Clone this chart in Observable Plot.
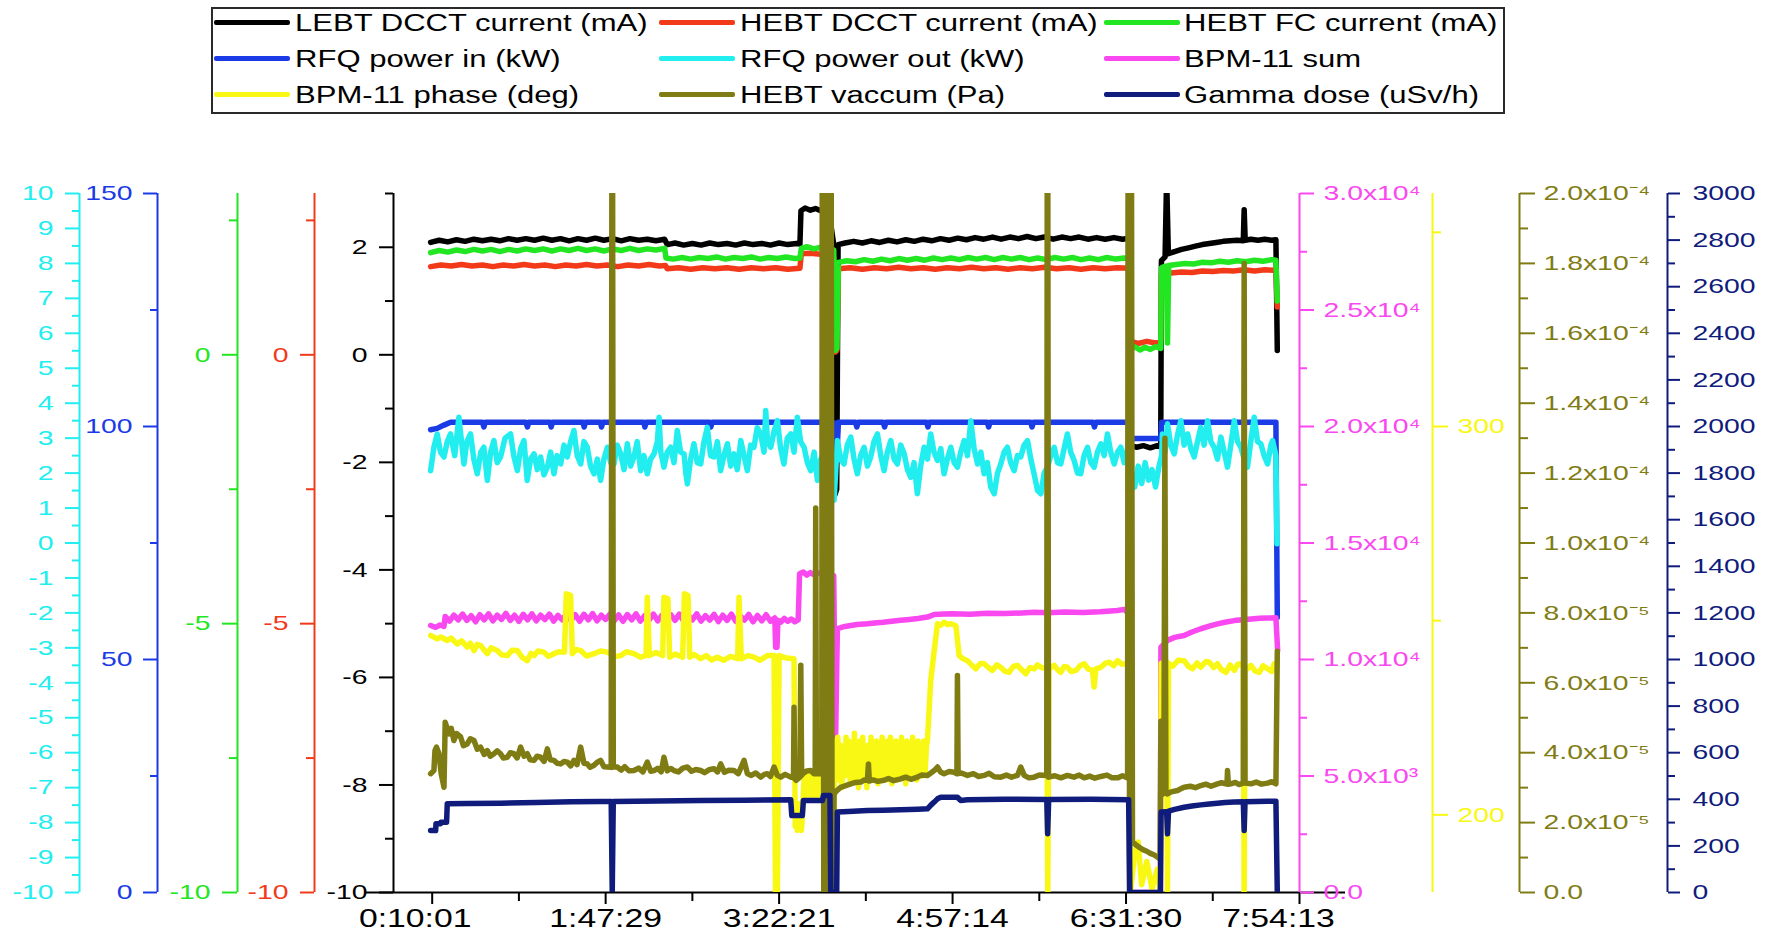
<!DOCTYPE html>
<html><head><meta charset="utf-8">
<script src="https://cdn.jsdelivr.net/npm/d3@7"></script>
<script src="https://cdn.jsdelivr.net/npm/@observablehq/plot@0.6"></script>
<style>
body{margin:0;background:#fff;font-family:"Liberation Sans",Arial,Helvetica,sans-serif;}
#legendArea{position:relative;width:1768px;height:120px;}
#legendBox{position:absolute;left:211px;top:7px;width:1294px;height:107px;border:2px solid #2a2a2a;box-sizing:border-box;}
.sw{position:absolute;height:5px;width:76px;border-radius:2px;}
.lt{position:absolute;font-size:23px;line-height:28px;white-space:nowrap;transform-origin:0 50%;color:#000;}
#wrap{position:relative;width:1768px;height:820px;overflow:hidden;}
#wrap svg{position:absolute;left:0;top:0;}
</style></head><body>
<div id="legendArea"><div id="legendBox"></div></div>
<div id="wrap"></div>
<script>
// ---------------- x axis (sample index; ticks labelled with clock time) ----------------
const xDomain = [-22.3, 500];
const xTickValues = [0, 100, 200, 300, 400, 500];
const xTickLabels = ["0:10:01", "1:47:29", "3:22:21", "4:57:14", "6:31:30", "7:54:13"];
const xMinorTicks = [50, 150, 250, 350, 450];

// ---------------- legend ----------------
const seriesNames = ["LEBT DCCT current (mA)", "HEBT DCCT current (mA)", "HEBT FC current (mA)",
  "RFQ power in (kW)", "RFQ power out (kW)", "BPM-11 sum",
  "BPM-11 phase (deg)", "HEBT vaccum (Pa)", "Gamma dose (uSv/h)"];

// ---------------- axis ticks / labels ----------------
const blackTicks = [2, 0, -2, -4, -6, -8, -10];
const blackLabels = ["2", "0", "-2", "-4", "-6", "-8", "-10"];
const blackMinor = [3, 1, -1, -3, -5, -7, -9];
const redTicks = [0, -5, -10];
const redLabels = ["0", "-5", "-10"];
const redMinor = [2.5, -2.5, -7.5];
const greenTicks = [0, -5, -10];
const greenLabels = ["0", "-5", "-10"];
const greenMinor = [2.5, -2.5, -7.5];
const blueTicks = [0, 50, 100, 150];
const blueLabels = ["0", "50", "100", "150"];
const blueMinor = [25, 75, 125];
const cyanTicks = [10, 9, 8, 7, 6, 5, 4, 3, 2, 1, 0, -1, -2, -3, -4, -5, -6, -7, -8, -9, -10];
const cyanLabels = ["10", "9", "8", "7", "6", "5", "4", "3", "2", "1", "0", "-1", "-2", "-3", "-4", "-5", "-6", "-7", "-8", "-9", "-10"];
const cyanMinor = [9.5, 8.5, 7.5, 6.5, 5.5, 4.5, 3.5, 2.5, 1.5, 0.5, -0.5, -1.5, -2.5, -3.5, -4.5, -5.5, -6.5, -7.5, -8.5, -9.5];
const magentaTicks = [0, 5000, 10000, 15000, 20000, 25000, 30000];
const magentaLabels = ["0.0", "5.0x10³", "1.0x10⁴", "1.5x10⁴", "2.0x10⁴", "2.5x10⁴", "3.0x10⁴"];
const magentaMinor = [2500, 7500, 12500, 17500, 22500, 27500];
const yellowTicks = [200, 300];
const yellowLabels = ["200", "300"];
const yellowMinor = [250, 350];
// vacuum values and ticks are in units of 1e-5 Pa
const oliveTicks = [0, 2, 4, 6, 8, 10, 12, 14, 16, 18, 20];
const oliveLabels = ["0.0", "2.0x10⁻⁵", "4.0x10⁻⁵", "6.0x10⁻⁵", "8.0x10⁻⁵", "1.0x10⁻⁴", "1.2x10⁻⁴", "1.4x10⁻⁴", "1.6x10⁻⁴", "1.8x10⁻⁴", "2.0x10⁻⁴"];
const oliveMinor = [1, 3, 5, 7, 9, 11, 13, 15, 17, 19];
const navyTicks = [0, 200, 400, 600, 800, 1000, 1200, 1400, 1600, 1800, 2000, 2200, 2400, 2600, 2800, 3000];
const navyLabels = navyTicks.map(String);
const navyMinor = [100, 300, 500, 700, 900, 1100, 1300, 1500, 1700, 1900, 2100, 2300, 2500, 2700, 2900];

// ---------------- series: [sample index, value] ----------------
const lebtDcct = [[-0.9,2.09],[4,2.13],[9,2.10],[14,2.14],[19,2.11],[24,2.15],[29,2.12],[34,2.15],[39,2.12],[44,2.16],[49,2.13],[54,2.16],[59,2.13],[64,2.17],[69,2.13],[74,2.16],[79,2.12],[84,2.16],[89,2.13],[94,2.17],[99,2.13],[104,2.16],[109,2.12],[114,2.16],[119,2.13],[124,2.15],[129,2.12],[134,2.15],
[135.5,2.05],[140,2.08],[145,2.04],[150,2.07],[155,2.04],[160,2.08],[165,2.05],[170,2.07],[175,2.04],[180,2.08],[185,2.05],[190,2.07],[195,2.04],[200,2.08],[205,2.05],[210,2.07],[212,2.06],
[212.6,2.68],[215,2.73],[218,2.69],[221,2.72],[224,2.68],[229,2.6],[231.5,2.05],[232.2,-2.6],[233.2,-2.5],[234,2.05],
[238,2.08],[243,2.11],[248,2.08],[253,2.12],[258,2.09],[263,2.13],[268,2.10],[273,2.14],[278,2.11],[283,2.15],[288,2.12],[293,2.16],[298,2.13],[303,2.17],[308,2.14],[313,2.18],[318,2.15],[323,2.19],[328,2.15],[333,2.19],[338,2.16],[343,2.20],[348,2.16],[353,2.19],[358,2.15],[363,2.19],[368,2.16],[373,2.19],[378,2.15],[383,2.18],[388,2.15],[393,2.18],[398,2.15],[401.8,2.17],
[402.6,-1.68],[406,-1.72],[410,-1.69],[414,-1.73],[418,-1.69],[420,-1.71],
[420.4,1.75],[422.5,1.82],[423.4,3.3],[424.4,1.88],[428,1.92],[432,1.96],[436,1.99],[440,2.02],[444,2.05],[448,2.07],[452,2.09],[456,2.11],[460,2.12],[464,2.13],[467.6,2.12],[468.1,2.7],[468.7,2.13],[472,2.15],[476,2.13],[480,2.15],[484,2.13],[486.4,2.14],[487.2,0.08]];

const hebtDcct = [[-0.9,1.64],[5,1.67],[11,1.65],[17,1.68],[23,1.65],[29,1.67],[35,1.64],[41,1.67],[47,1.65],[53,1.68],[59,1.65],[65,1.67],[71,1.64],[77,1.67],[83,1.65],[89,1.68],[95,1.65],[101,1.67],[107,1.64],[113,1.67],[119,1.65],[125,1.68],[131,1.65],[134.5,1.66],
[135.5,1.60],[142,1.62],[149,1.59],[156,1.62],[163,1.60],[170,1.62],[177,1.59],[184,1.62],[191,1.60],[198,1.62],[205,1.59],[212,1.61],[212.8,1.88],[218,1.89],[224,1.87],
[231.5,1.8],[232.3,0.05],[233.3,0.08],[234.2,1.60],[241,1.62],[248,1.59],[255,1.62],[262,1.60],[269,1.63],[276,1.60],[283,1.62],[290,1.59],[297,1.62],[304,1.60],[311,1.63],[318,1.60],[325,1.62],[332,1.59],[339,1.62],[346,1.60],[353,1.63],[360,1.60],[367,1.62],[374,1.59],[381,1.62],[388,1.60],[395,1.62],[401.8,1.61],
[402.6,0.25],[407,0.21],[412,0.25],[417,0.22],[420,0.24],[420.4,1.50],[426,1.52],[432,1.54],[438,1.53],[444,1.56],[450,1.55],[456,1.57],[462,1.56],[468,1.58],[474,1.56],[480,1.58],[486.4,1.57],[487.2,0.89]];

const hebtFc = [[-0.9,1.90],[4,1.94],[9,1.91],[14,1.95],[19,1.92],[24,1.96],[29,1.93],[34,1.96],[39,1.92],[44,1.96],[49,1.93],[54,1.97],[59,1.94],[64,1.97],[69,1.93],[74,1.97],[79,1.94],[84,1.98],[89,1.94],[94,1.97],[99,1.93],[104,1.97],[109,1.94],[114,1.98],[119,1.94],[124,1.97],[129,1.95],[134,1.98],
[134.8,1.80],[139,1.78],[144,1.81],[149,1.78],[154,1.81],[159,1.79],[164,1.82],[169,1.78],[174,1.81],[179,1.79],[184,1.82],[189,1.78],[194,1.81],[199,1.79],[204,1.82],[209,1.79],[212,1.80],
[212.8,1.98],[216,2.01],[220,1.97],[224,2.00],[231.5,1.95],[232.3,0.08],[233.3,0.12],[234.2,1.72],
[239,1.75],[244,1.73],[249,1.77],[254,1.74],[259,1.78],[264,1.75],[269,1.79],[274,1.76],[279,1.79],[284,1.76],[289,1.80],[294,1.77],[299,1.80],[304,1.77],[309,1.81],[314,1.78],[319,1.81],[324,1.77],[329,1.81],[334,1.78],[339,1.81],[344,1.77],[349,1.80],[354,1.77],[359,1.81],[364,1.78],[369,1.81],[374,1.77],[379,1.80],[384,1.77],[389,1.81],[394,1.78],[399,1.80],[401.8,1.79],
[402.6,0.10],[405,0.15],[408,0.09],[411,0.14],[414,0.10],[417,0.15],[420,0.12],
[420.4,1.62],[422,1.64],[423.2,1.65],[423.9,0.22],[424.6,1.66],[429,1.68],[434,1.70],[439,1.69],[444,1.72],[449,1.71],[454,1.74],[459,1.72],[464,1.75],[469,1.73],[474,1.76],[479,1.74],[484,1.77],[486.4,1.76],[487.2,1.00]];

const rfqPowerIn = [[-0.9,99.3],[2.9,99.6],[6.8,100.3],[10.6,100.9],[29,100.9],[29.8,99.9],[30.6,100.9],[54,100.9],[54.9,99.9],[55.7,100.9],[68,100.9],[68.6,99.9],[69.4,100.9],[87,100.9],[87.6,99.9],[88.4,100.9],[97,100.9],[97.6,99.9],[98.4,100.9],[122,100.9],[122.6,99.9],[123.4,100.9],[160,100.9],[160.6,99.9],[161.4,100.9],[224,100.9],
[231.5,100.8],[232.2,94.9],[233.5,95.5],[234.2,100.9],[244,100.9],[244.8,99.9],[245.6,100.9],[260,100.9],[260.8,99.9],[261.6,100.9],[285,100.9],[285.8,99.9],[286.6,100.9],[320,100.9],[320.8,99.9],[321.6,100.9],[345,100.9],[345.8,99.9],[346.6,100.9],[381,100.9],[381.8,99.9],[382.6,100.9],[401.8,100.9],
[402.6,97.4],[420,97.4],[420.5,100.9],[486.4,100.9],[487.2,59.0]];

const rfqPowerOut = [[-0.9,2.07],[1.0,2.74],[2.9,3.12],[4.8,2.6],[6.8,2.46],[8.7,2.9],[10.6,3.12],[13,2.5],[15.4,3.60],[18.3,2.26],[20,2.9],[22.1,3.12],[24,2.4],[26.0,1.98],[28,2.6],[29.8,2.74],[31.8,1.79],[33.7,2.6],[35.6,2.93],[37.5,2.3],[39.4,2.46],[42,3.0],[45.2,3.12],[47,2.5],[49.1,2.07],[51,2.7],[52.9,2.93],[54.8,1.79],[56.7,2.4],[58.7,2.55],[60.6,2.1],[62.5,2.46],[64.4,1.95],[66.4,2.17],[68.3,2.6],[70.2,1.98],[72,2.5],[74.1,2.26],[76,2.8],[77.9,2.46],[79.8,2.9],[81.7,3.22],[83.6,2.5],[85.6,2.26],[87.5,2.9],[89.4,2.74],[91.3,2.2],[93.3,1.98],[95.2,2.4],[97.1,1.79],[99,2.4],[101.0,2.74],[102.9,2.3],[104.8,2.26],[106.7,2.8],[108.7,2.55],[110.6,2.1],[112.5,2.84],[114.4,2.2],[116.3,2.46],[118.2,2.9],[120.2,2.07],[122.1,2.5],[124.0,1.98],[125.9,2.4],[127.9,2.55],[129.8,2.9],[130.8,3.60],[131.8,2.6],[133.6,2.17],[135.5,2.6],[137.5,2.74],[139.4,2.3],[141.3,3.22],[143.2,2.6],[145.2,2.55],[146.2,2.0],[147.1,1.69],[149,2.4],[150.9,2.84],[152.8,2.3],[154.8,2.26],[156.7,2.9],[158.6,3.31],[160.5,2.5],[162.5,2.46],[164.4,2.9],[166.3,2.07],[168.2,2.5],[170.2,2.84],[172.1,2.2],[174.0,2.55],[175.9,2.1],[177.9,2.93],[179.8,2.5],[181.7,2.07],[183.6,2.8],[185.5,2.74],[187.4,3.3],[189.4,3.12],[191.3,2.6],[192.3,3.79],[193.3,2.9],[195.2,2.74],[197.1,3.2],[199.0,3.50],[200.9,2.7],[202.8,2.26],[204.7,3.0],[206.7,3.12],[208.6,2.6],[210.5,3.60],[212.4,2.9],[214.4,2.74],[216.3,2.3],[218.2,2.07],[220.2,2.6],[222.1,1.79],[224,2.4],[225,2.5],[230,2.2],[231.7,1.22],
[233.6,2.93],[235.5,2.4],[237.4,2.26],[239.3,2.8],[241.3,3.03],[243.2,2.4],[245.1,1.98],[247,2.5],[249.0,2.74],[250.9,2.2],[252.8,2.46],[254.7,2.9],[256.7,3.12],[258.6,2.5],[260.5,2.07],[262.4,2.6],[264.4,2.93],[266.3,2.4],[268.2,2.26],[270.1,2.8],[272.1,2.55],[274,2.1],[275.9,1.88],[277.8,2.3],[279.7,1.41],[281.6,2.2],[283.6,2.74],[285.5,2.4],[287.4,3.12],[289.3,2.6],[291.3,2.36],[293.2,2.7],[295.1,1.98],[297,2.4],[299.0,2.74],[300.9,2.3],[302.8,2.17],[304.7,2.6],[306.7,2.93],[308.6,2.5],[310.5,3.50],[312.4,2.7],[314.4,2.26],[316.3,2.6],[318.2,1.98],[320.1,2.3],[322.0,1.60],[324.0,1.41],[325.9,2.0],[327.8,2.26],[329.7,2.6],[331.6,2.74],[333.5,2.3],[335.5,2.07],[337.4,2.5],[339.3,2.46],[341.2,2.8],[343.2,2.93],[345.1,2.4],[347.0,1.98],[349.0,1.50],[350.9,1.41],[352.8,2.0],[354.7,2.17],[356.6,2.5],[358.6,2.74],[360.5,2.3],[362.4,2.26],[364.3,2.7],[366.2,3.12],[368.1,2.6],[370.1,2.36],[372,2.0],[373.9,1.98],[375.8,2.5],[377.8,2.74],[379.7,2.3],[381.6,2.17],[383.5,2.6],[385.5,2.84],[387.4,2.5],[389.3,3.12],[391.2,2.6],[393.2,2.26],[395.1,2.6],[397.0,2.74],[398.9,2.3],[400.5,2.6],[401.8,2.93],
[403,2.0],[405,1.6],[407,2.2],[409,1.7],[411,2.3],[413,1.8],[415,2.1],[417,1.6],[419,2.2],[420.5,2.5],
[421.0,3.12],[422.5,2.6],[423.9,3.41],[425.8,2.8],[427.8,2.55],[429.7,3.1],[431.6,3.50],[433.5,2.8],[435.5,3.12],[437.4,2.7],[439.3,2.46],[441.2,2.9],[443.1,3.31],[445,2.8],[447.0,3.50],[448.9,2.9],[450.8,2.74],[452.7,2.4],[454.7,3.03],[456.6,2.6],[458.5,2.17],[460.4,2.8],[462.4,3.50],[464.3,2.9],[466.2,2.74],[468.1,2.4],[470.0,2.17],[471.9,2.9],[473.9,3.60],[475.8,2.9],[477.7,2.84],[479.6,2.5],[481.6,2.26],[483.5,2.8],[484.5,2.93],[486.4,2.5],[487.0,-0.02]];

const bpmSum = [[-0.9,11460],[2,11380],[4.5,11480],[6.8,11420],
[7.5,11850],[10,11650],[12.5,11900],[15,11700],[17.5,11950],[20,11680],[22.5,11880],[25,11620],[27.5,11920],[30,11700],[32.5,11960],[35,11660],[37.5,11900],[40,11720],[42.5,11980],[45,11680],[47.5,11900],[50,11640],[52.5,11940],[55,11700],[57.5,11960],[60,11660],[62.5,11900],[65,11710],[67.5,11950],[70,11650],[72.5,11890],[75,11700],[77.5,11960],[80,11680],[82.5,11920],[85,11640],[87.5,11940],[90,11700],[92.5,11970],[95,11660],[97.5,11900],[100,11720],[102.5,11950],[105,11670],[107.5,11910],[110,11640],[112.5,11930],[115,11700],[117.5,11960],[120,11650],[122.5,11880],[125,11690],[127.5,11950],[130,11660],[132.5,11900],[135,11620],[137.5,11930],[140,11680],[142.5,11950],[145,11640],[147.5,11900],[150,11700],[152.5,11960],[155,11650],[157.5,11880],[160,11690],[162.5,11940],[165,11630],[167.5,11900],[170,11680],[172.5,11950],[175,11640],[177.5,11880],[180,11690],[182.5,11930],[185,11620],[187.5,11890],[190,11660],[192.5,11920],[195,11640],[197.5,11780],
[198,10530],[198.8,10530],[199.3,11680],[201,11600],[203,11760],[205,11640],[207,11740],[209,11620],[211,11700],[211.8,13680],[214,13750],[216,13620],[218,13730],[220,13640],[222,13720],[224,13680],
[231.5,13600],[232.5,6380],[233.6,11320],[236,11380],[238,11420],[241.3,11460],[245,11500],[250.9,11530],[255,11570],[260,11600],[265,11640],[270,11680],[275,11720],[280,11760],[285.5,11820],[289.4,11930],[295,11950],[300,11960],[310,11940],[320,11990],[330,11970],[340,12000],[347,12030],[355,12010],[365,12040],[375,12020],[385,12050],[395,12100],[399,12150],[401,12000],[401.8,11930],
[402.5,0],[419.8,0],[420.1,10530],[423.9,10820],[428,10950],[433.5,11030],[438,11180],[443.1,11320],[448,11430],[452.7,11530],[457,11600],[462.4,11670],[467,11710],[472,11740],[477,11770],[481.6,11780],[486.4,11790],[487.4,10390]];

const bpmPhase = [[-0.9,246.2],[2.9,245.3],[5,245.8],[8.7,244.9],[11,245.5],[14.5,244.0],[17,244.8],[20.2,243.2],[22,244.2],[24.1,242.3],[26,243.9],[27.9,243.6],[30,242.4],[31.8,241.5],[34,243.0],[37.5,242.3],[40,241.2],[43.3,241.0],[46,242.4],[49.1,242.3],[52,240.5],[54.8,239.7],[57,241.6],[58.7,241.0],[61,242.2],[64.4,241.9],[67,240.8],[70.2,241.5],[73,242.0],[76.3,241.9],[77.3,256.9],[79.8,256.5],[80.8,241.5],[83,242.6],[85.6,242.3],[89,240.9],[93.3,241.5],[97,242.2],[101,241.9],[105,240.7],[108.7,241.0],[112,242.0],[116.3,241.5],[120,240.6],[123.3,241.0],[124.0,256.0],[125.2,241.0],[129,241.8],[132.9,241.0],[133.6,256.0],[135.9,255.6],[136.9,240.6],[140,241.4],[144.4,240.6],[145.4,256.9],[147.5,256.5],[148.5,240.6],[151,241.3],[154.8,240.2],[158,241.0],[161,239.9],[164.4,240.6],[168,239.8],[172,240.8],[176.1,240.2],[176.9,256.0],[178.2,240.2],[182,241.0],[185.5,240.6],[189,239.8],[193.2,241.0],[197.1,241.0],[197.9,180],[199.0,180],[200.0,241.0],[204,240.4],[208.6,240.2],
[209.3,197],[209.9,203],[210.5,196],[211.1,202],[211.7,197],[212.3,203],[212.9,196],[213.5,201],[214.1,207],[214.7,211],[215.3,205],[215.9,210],[216.5,206],[217.1,211],[217.7,205],[218.3,210],[218.9,206],[219.5,211],[220.1,205],[220.7,210],[221.3,206],[221.9,211],[222.5,205],[223.1,210],[223.7,206],[224.3,209],[230.8,196],
[231.5,196],[232.2,219],[233.0,211],[233.8,220],[234.6,209],[235.4,218],[236.2,207],[237.0,216],[237.8,210],[238.6,220],[239.4,212],[240.2,219],[241.0,208],[241.8,217],[242.6,210],[243.4,221],[244.2,209],[245.0,215],[245.8,207],[246.6,219],[247.4,211],[248.2,220],[249.0,210],[249.8,216],[250.6,207],[251.4,218],[252.2,212],[253.0,220],[253.8,209],[254.6,217],[255.4,211],[256.2,219],[257.0,208],[257.8,216],[258.6,210],[259.4,220],[260.2,212],[261.0,218],[261.8,209],[262.6,219],[263.4,211],[264.2,220],[265.0,208],[265.8,217],[266.6,210],[267.4,219],[268.2,209],[269.0,218],[269.8,211],[270.6,220],[271.4,210],[272.2,217],[273.0,208],[273.8,219],[274.6,212],[275.4,218],[276.2,210],[277.0,220],[277.8,211],[278.6,217],[279.4,209],[280.2,219],[281.0,212],[281.8,218],[282.6,210],[283.4,219],[284.2,211],[285.0,218],[285.5,219],
[287.4,234.6],[289.4,242.3],[291.3,249.2],[293,248.8],[295.1,249.6],[297,249.0],[299.0,249.2],[301.9,248.7],[303.8,241.0],[306,240.2],[308.6,239.7],[311,238.6],[313.4,237.6],[316,239.0],[318.2,238.9],[321,237.8],[323.0,237.2],[325.5,238.6],[327.8,238.0],[330,237.0],[332.6,236.7],[335,238.2],[337.4,238.5],[340,237.3],[342.2,236.3],[344.5,237.9],[347.0,237.6],[349,238.6],[350.9,238.0],[354.3,237.6],[354.9,180],[355.5,237.6],[358.6,238.5],[360.5,237.4],[362.4,236.7],[364.3,238.2],[366.2,238.0],[368.5,236.9],[371.1,237.2],[373.5,238.4],[375.9,238.9],[378.3,237.5],[380.7,237.2],[381.6,232.9],[382.6,237.6],[385.5,238.0],[388,239.0],[390.3,239.3],[392.8,238.4],[395.1,239.7],[397.5,238.8],[399.9,238.9],[401.8,239.3],
[402.5,180],[405,190],[407,193],[409,182],[412,188],[415,181],[418,186],[419.8,180],[420.3,239],[423.3,239.5],[423.9,180],[424.5,239],[427,238.3],[430,239.8],[433.5,239.7],[436,238.2],[438.3,237.6],[441,239.1],[443.1,238.0],[446,239.5],[448.0,239.3],[450.5,237.9],[452.7,238.9],[455,237.4],[457.6,236.7],[460,238.6],[462.4,237.2],[464.5,238.8],[466.2,238.9],[467.6,238],[468.1,180],[468.6,238],[470,237.6],[472.0,238.5],[474.5,237.0],[476.8,236.7],[479,238.4],[481.6,237.6],[484,236.9],[485.4,238.9],[487.0,238.5]];

// HEBT vacuum in units of 1e-5 Pa
const hebtVacuum = [[-0.9,3.40],[1.0,3.49],[1.6,4.06],[2.5,4.16],[3.9,3.97],[5.2,3.40],[6.8,3.01],[7.5,4.87],[9.7,4.54],[11,4.70],[12.5,4.35],[14,4.55],[16.4,4.45],[18,4.20],[20.2,4.25],[22,4.40],[24.1,4.35],[26,4.10],[27.9,4.16],[30,3.95],[31.8,4.06],[33.5,3.90],[35.6,3.97],[37.5,4.05],[39.4,3.97],[41,3.85],[43.3,3.87],[45,4.00],[47.1,3.97],[49,3.85],[51.0,4.16],[53,3.90],[54.8,3.97],[56.5,3.80],[58.7,3.78],[60.5,3.90],[62.5,3.87],[64.5,3.75],[66.4,4.11],[68,3.80],[70.2,3.78],[72,3.70],[74.1,3.68],[76,3.75],[77.9,3.73],[79.8,3.62],[81.7,3.78],[83.5,3.66],[85.6,4.16],[87.5,3.70],[89.4,3.68],[91,3.58],[93.3,3.64],[95,3.72],[97.1,3.78],[99,3.60],[101.0,3.59],[103.2,3.58],[103.8,30],[104.4,3.59],[106.7,3.59],[109,3.50],[111,3.60],[113.5,3.48],[116.3,3.49],[119,3.56],[121.5,3.45],[124.0,3.73],[126,3.47],[127.9,3.49],[130,3.55],[132,3.45],[133.6,3.87],[135.5,3.48],[137.5,3.55],[139.4,3.49],[142,3.45],[144.5,3.56],[147.1,3.59],[149.5,3.47],[152,3.52],[154.8,3.49],[157,3.43],[160,3.52],[162.5,3.54],[164.5,3.45],[166.3,3.68],[168.5,3.44],[171,3.50],[174.0,3.49],[176.5,3.40],[179.8,3.78],[181.7,3.40],[184,3.35],[186.5,3.42],[189.4,3.30],[191.5,3.38],[193.2,3.40],[195,3.32],[197.1,3.59],[199,3.35],[200.9,3.30],[203.5,3.38],[206.7,3.30],[208.3,3.30],[208.6,5.3],[209.0,3.25],[209.8,3.21],[212.0,3.30],[212.5,6.5],[213.0,3.35],[213.6,3.40],[216,3.48],[218.2,3.49],[220.1,3.40],[220.8,3.40],[221.1,11.0],[221.5,3.40],[222.1,3.40],[223.6,3.40],[224.6,3.5],
[225.0,30],[225.8,-2],[226.6,30],[227.4,-2],[228.2,30],[229.0,-2],[229.8,30],[230.6,-2],
[231.7,2.82],[233,2.90],[235.5,3.01],[238,3.05],[241.3,3.11],[244,3.15],[247.1,3.16],[249,3.22],[250.9,3.21],[251.5,3.68],[252.0,3.19],[254,3.22],[257,3.18],[260.5,3.21],[263,3.26],[266,3.20],[270.1,3.25],[273,3.30],[276,3.24],[279.7,3.30],[282,3.36],[285.5,3.35],[287.5,3.42],[289.4,3.49],[291.3,3.59],[293,3.45],[295.1,3.40],[298,3.46],[300.9,3.44],[302.5,3.40],[302.8,6.21],[303.2,3.40],[305,3.42],[308.6,3.35],[312,3.40],[315,3.32],[318.2,3.35],[321,3.41],[324,3.31],[327.8,3.30],[331,3.36],[334,3.30],[337.4,3.35],[339.3,3.59],[341.3,3.35],[344,3.28],[347.0,3.30],[350,3.36],[354.3,3.35],[354.7,30],[355.3,3.30],[359,3.34],[362.4,3.28],[366.2,3.35],[370,3.30],[373,3.36],[375.9,3.28],[379,3.33],[382,3.27],[385.5,3.32],[389,3.36],[392,3.28],[395.1,3.28],[398,3.34],[400.9,3.28],
[401.3,30],[402.1,-2],[402.9,30],[403.7,1.45],[406,1.35],[408,1.28],[410,1.22],[412,1.18],[414,1.12],[416,1.08],[418,1.02],[419.6,0.95],
[420.1,4.9],[420.8,2.80],[421.8,2.85],[422.4,13.0],[423.0,2.85],[423.9,2.82],[426,2.88],[429.7,2.92],[432,2.98],[433.5,3.01],[437,3.04],[440,3.00],[443.1,3.06],[446,3.10],[449,3.04],[452.7,3.11],[455,3.14],[458.2,3.10],[458.5,3.49],[459,3.10],[460.4,3.11],[463,3.15],[465,3.09],[467.6,3.13],[468.1,18.0],[468.6,3.13],[472.0,3.11],[475,3.16],[478,3.10],[481.6,3.13],[484,3.17],[486.4,3.11],[487.2,6.9]];

const gammaDose = [[-0.9,266],[2.0,266],[2.2,295],[4.8,295],[5.0,302],[8.3,302],[8.7,381],[20,382],[39.4,383],[60,386],[80,389],[97.1,391],[103.2,391],[103.8,0],[104.4,391],[130,393],[154.8,395],[180,396],[206.7,398],[207.3,330],[213.4,330],[214.0,395],[225.0,395],[225.5,416],[229.3,416],[229.8,0],[233.2,0],
[233.6,345],[240,348],[250.9,352],[260,353],[270.1,355],[280,357],[285.5,359],[287.5,375],[289.4,388],[291.3,402],[293.2,409],[302.8,409],[304.7,395],[308.6,398],[330,400],[354.3,399],[354.8,252],[355.4,399],[380,400],[401.5,398],
[402.1,0],[419.8,0],[420.2,345],[423.4,347],[423.9,252],[424.5,349],[428,357],[433.5,366],[438,371],[443.1,376],[448,380],[452.7,383],[457,386],[462.4,388],[467.6,389],[468.1,266],[468.6,389],[475,391],[481.6,392],[486.4,392],[487.2,0]];

// ---------------- layout / style ----------------
const W = 1768, H = 820, MT = 73, MB = 48, ML = 393, MR = 469;
const FONT = '"Liberation Sans", Arial, Helvetica, sans-serif';
const STRETCH = 1.35;
const LINE_W = 5.5;
const colors = {black:"#000000", red:"#f23a1a", green:"#22e622", blue:"#1a3be6", cyan:"#22eef0", magenta:"#fa48f0", yellow:"#f8f814", olive:"#7f7c14", navy:"#101c7c"};

const wrap = document.getElementById("wrap");
const fmtFrom = (vals, labels) => d => { const i = vals.indexOf(d); return i < 0 ? "" : labels[i]; };

function axisMarks(side, offset, color, major, labels, minor, majLen, minLen, pad) {
  const dx = side === "left" ? -offset : offset;
  const xPos = side === "left" ? xDomain[0] : xDomain[1];
  return [
    Plot.ruleX([xPos], {x: d => d, dx, stroke: color, strokeWidth: 2}),
    Plot.axisY(minor, {anchor: side, dx, tickSize: minLen, stroke: color, strokeWidth: 2, fill: "none", label: null}),
    Plot.axisY(major, {anchor: side, dx, tickSize: majLen, tickPadding: pad, stroke: color, strokeWidth: 2, fill: color, fontSize: 21, tickFormat: fmtFrom(major, labels), label: null})
  ];
}
function seriesLine(data, color) {
  return Plot.line(data, {x: d => d[0], y: d => d[1], stroke: color, strokeWidth: LINE_W, clip: true});
}
function layer(yDomain, marks) {
  const svg = Plot.plot({
    width: W, height: H, marginTop: MT, marginBottom: MB, marginLeft: ML, marginRight: MR,
    x: {domain: xDomain, axis: null}, y: {domain: yDomain, axis: null},
    style: {fontFamily: FONT, fontSize: "21px", background: "none", overflow: "visible"},
    marks
  });
  wrap.appendChild(svg);
}
const xLabelOpts = (dx) => ({anchor: "bottom", tickSize: 0, tickPadding: 17, dx, fill: "#000", fontSize: 25, tickFormat: fmtFrom(xTickValues, xTickLabels), label: null});

// black (main) layer with x axis
layer([-10, 3], [
  ...axisMarks("left", 0, colors.black, blackTicks, blackLabels, blackMinor, 14, 8, 12),
  Plot.ruleY([-10], {y: d => d, insetLeft: -28, insetRight: -46, stroke: "#000", strokeWidth: 2}),
  Plot.axisX(xMinorTicks, {anchor: "bottom", tickSize: 9, stroke: "#000", strokeWidth: 2, fill: "none", label: null}),
  Plot.axisX(xTickValues, {anchor: "bottom", tickSize: 12, stroke: "#000", strokeWidth: 2, fill: "none", label: null}),
  Plot.axisX(xTickValues.slice(0, 1), xLabelOpts(-17)),
  Plot.axisX(xTickValues.slice(1, 5), xLabelOpts(0)),
  Plot.axisX(xTickValues.slice(5), xLabelOpts(-21)),
  seriesLine(lebtDcct, colors.black)
]);
layer([-10, 3], [...axisMarks("left", 79, colors.red, redTicks, redLabels, redMinor, 14, 8, 12), seriesLine(hebtDcct, colors.red)]);
layer([-10, 3], [...axisMarks("left", 156, colors.green, greenTicks, greenLabels, greenMinor, 15, 8, 12), seriesLine(hebtFc, colors.green)]);
layer([0, 150], [...axisMarks("left", 236, colors.blue, blueTicks, blueLabels, blueMinor, 14, 7, 11), seriesLine(rfqPowerIn, colors.blue)]);
layer([-10, 10], [...axisMarks("left", 314, colors.cyan, cyanTicks, cyanLabels, cyanMinor, 14, 7, 12), seriesLine(rfqPowerOut, colors.cyan)]);
layer([0, 30000], [...axisMarks("right", 0, colors.magenta, magentaTicks, magentaLabels, magentaMinor, 14, 7, 10), seriesLine(bpmSum, colors.magenta)]);
layer([180, 360], [...axisMarks("right", 133, colors.yellow, yellowTicks, yellowLabels, yellowMinor, 15, 8, 10), seriesLine(bpmPhase, colors.yellow)]);
layer([0, 20], [...axisMarks("right", 220, colors.olive, oliveTicks, oliveLabels, oliveMinor, 15, 8, 9), seriesLine(hebtVacuum, colors.olive)]);
layer([0, 3000], [...axisMarks("right", 368, colors.navy, navyTicks, navyLabels, navyMinor, 12, 7, 13), seriesLine(gammaDose, colors.navy)]);

// horizontally stretched lettering, as in the reference
wrap.querySelectorAll("svg text").forEach(t => {
  const L = t.getComputedTextLength();
  if (L > 0) { t.setAttribute("textLength", (L * STRETCH).toFixed(1)); t.setAttribute("lengthAdjust", "spacingAndGlyphs"); }
});

// legend
const legendColors = [colors.black, colors.red, colors.green, colors.blue, colors.cyan, colors.magenta, colors.yellow, colors.olive, colors.navy];
const swLeft = [1, 446, 891], txtLeft = [82, 527, 971], rowMid = [13.5, 49.6, 85.7];
const box = document.getElementById("legendBox");
seriesNames.forEach((name, i) => {
  const r = Math.floor(i / 3), c = i % 3;
  const sw = document.createElement("div");
  sw.className = "sw"; sw.style.left = swLeft[c] + "px"; sw.style.top = (rowMid[r] - 2.5) + "px"; sw.style.background = legendColors[i];
  box.appendChild(sw);
  const t = document.createElement("div");
  t.className = "lt"; t.textContent = name; t.style.left = txtLeft[c] + "px"; t.style.top = (rowMid[r] - 14) + "px";
  t.style.transform = "scaleX(" + STRETCH + ")";
  box.appendChild(t);
});
</script></body></html>
